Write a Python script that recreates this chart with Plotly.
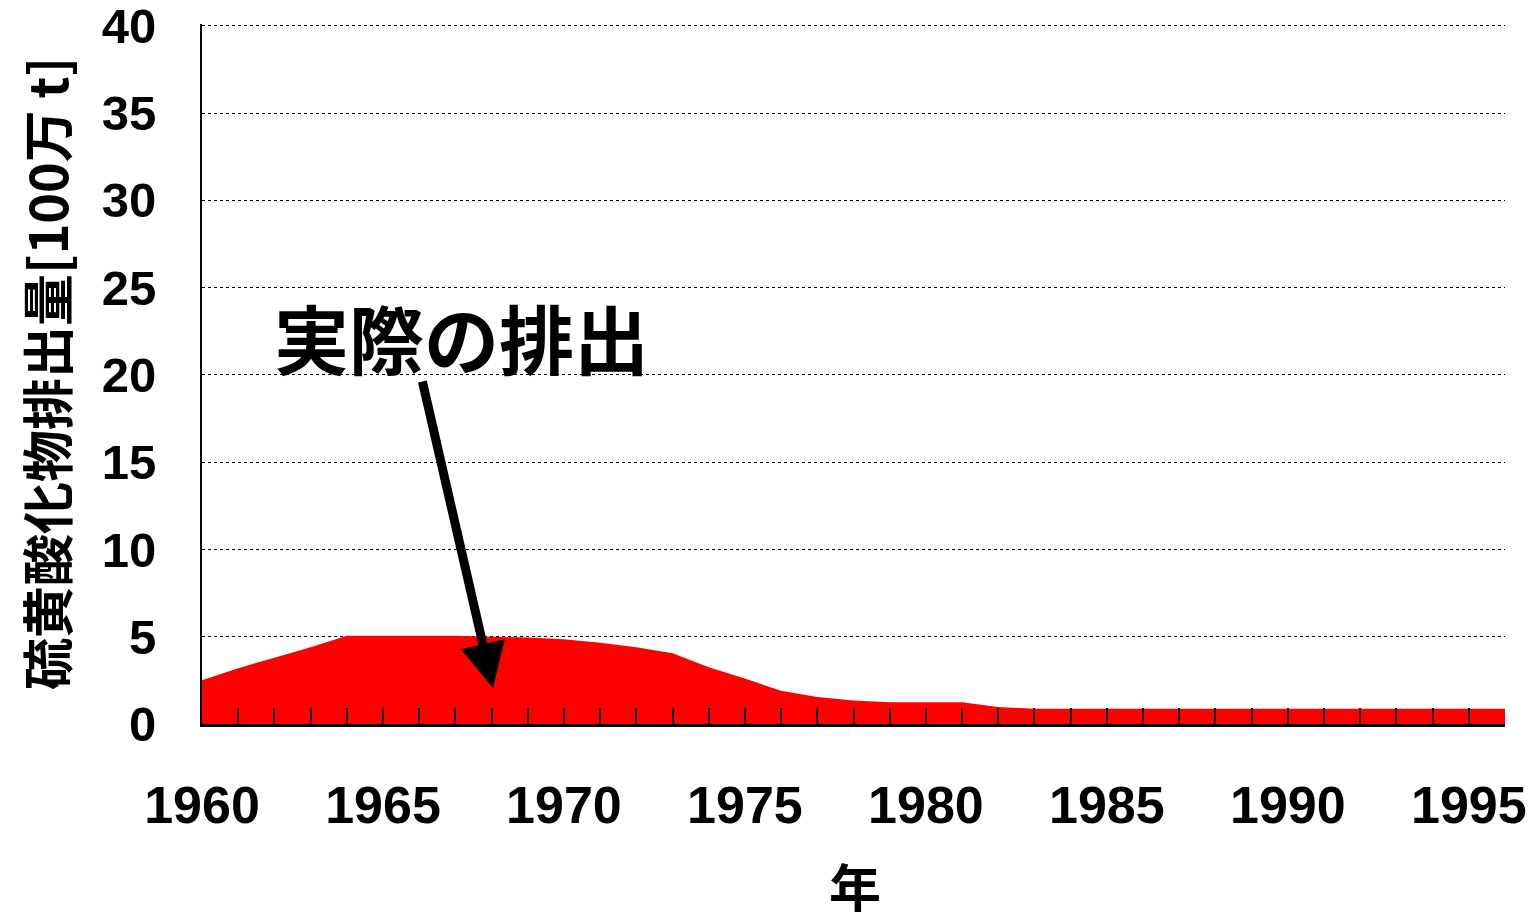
import plotly.graph_objects as go

years = list(range(1960, 1997))
emissions = [2.5, 3.2, 3.8, 4.4, 5.05, 5.05, 5.05, 5.05, 5.0, 4.95,
             4.85, 4.65, 4.4, 4.05, 3.25, 2.6, 1.9, 1.55, 1.35, 1.25,
             1.25, 1.25, 0.97, 0.88, 0.88, 0.88, 0.88, 0.88, 0.88, 0.88,
             0.88, 0.88, 0.88, 0.88, 0.88, 0.88, 0.88]

y_title = "硫黄酸化物排出量[100万 t]"
x_title = "年"
label_text = "実際の排出"

num_font = "Liberation Sans, Arial, sans-serif"
cjk_font = "Noto Sans CJK JP, sans-serif"

fig = go.Figure()
fig.add_trace(go.Scatter(
    x=years, y=emissions, mode="lines", fill="tozeroy",
    fillcolor="#ff0000", line=dict(color="#ff0000", width=0),
    hoverinfo="x+y", showlegend=False,
))

fig.update_layout(
    width=1536, height=912,
    margin=dict(l=194, r=39, t=16, b=196),
    plot_bgcolor="white", paper_bgcolor="white",
    showlegend=False,
    xaxis=dict(
        range=[1960, 1996], tick0=1960, dtick=5, automargin=False,
        showline=True, linecolor="black", linewidth=3,
        ticks="inside", ticklen=16, tickwidth=2, tickcolor="black",
        minor=dict(dtick=1, ticks="inside", ticklen=16, tickwidth=2, tickcolor="black", showgrid=False),
        showgrid=False, zeroline=False,
        tickfont=dict(family=num_font, size=52, color="black", weight="bold"),
        ticklabelstandoff=34, ticklabeloverflow="allow",
    ),
    yaxis=dict(
        range=[0, 40.1], tick0=0, dtick=5, automargin=False,
        showline=True, linecolor="black", linewidth=2,
        ticks="", showgrid=True, gridcolor="black", gridwidth=1, griddash="dot",
        zeroline=False,
        tickfont=dict(family=num_font, size=49, color="black", weight="bold"),
        ticklabelstandoff=34, ticklabeloverflow="allow",
    ),
)

fig.add_annotation(
    xref="paper", yref="paper", x=(45 - 202) / 1303, y=(724 - 374) / 700,
    xanchor="center", yanchor="middle",
    text=y_title, textangle=-90, showarrow=False,
    font=dict(family=cjk_font, size=52, color="black", weight="bold"),
)
fig.add_annotation(
    xref="paper", yref="paper", x=(855 - 202) / 1303, y=(724 - 885) / 700,
    xanchor="center", yanchor="middle",
    text=x_title, showarrow=False,
    font=dict(family=cjk_font, size=52, color="black", weight="bold"),
)
fig.add_annotation(
    xref="x", yref="y", x=1967.16, y=22.2,
    xanchor="center", yanchor="middle",
    text=label_text, showarrow=False,
    font=dict(family=cjk_font, size=75, color="black", weight="bold"),
)
fig.add_annotation(
    xref="x", yref="y", x=1968.04, y=2.06,
    axref="x", ayref="y", ax=1966.08, ay=19.7,
    text="", showarrow=True, arrowhead=2, arrowsize=1, arrowwidth=9,
    arrowcolor="black", standoff=0,
)

fig.write_html("out.html")
